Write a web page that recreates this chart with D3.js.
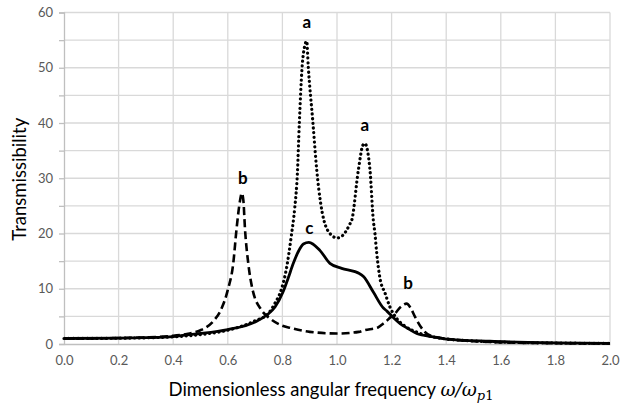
<!DOCTYPE html>
<html>
<head>
<meta charset="utf-8">
<script src="https://cdn.jsdelivr.net/npm/d3@7"></script>
<style>
  body { margin: 0; background: #fff; }
  text { font-family: Lato, "Open Sans", sans-serif; }
</style>
</head>
<body>
<svg id="chart" width="621" height="405"></svg>
<script>
// curve a (dotted)
const freqA = [0, 0.1, 0.2, 0.3, 0.4, 0.5, 0.6, 0.65, 0.7, 0.748, 0.773, 0.797, 0.815, 0.833, 0.845, 0.855, 0.862,
  0.872, 0.882, 0.889, 0.895, 0.911, 0.926, 0.952, 0.98, 1.0, 1.02, 1.048, 1.054, 1.078, 1.095, 1.102,
  1.121, 1.133, 1.139, 1.145, 1.157, 1.176, 1.194, 1.219, 1.25, 1.3, 1.35, 1.4, 1.5, 1.6, 1.8, 2.0]
const transA = [1.0, 1.01, 1.05, 1.12, 1.3, 1.7, 2.5, 3.2, 4.2, 5.5, 7.4, 10, 13.7, 19.7, 24.5, 31, 40,
  50, 54, 54.8, 50, 40.5, 31.4, 22.4, 19.7, 19.2, 19.6, 21.8, 22.4, 31.4, 36, 36.3,
  31.4, 22.4, 20, 16.7, 12, 9.2, 6.7, 4.6, 3.2, 2.0, 1.3, 0.9, 0.55, 0.35, 0.18, 0.1]

// curve b (dashed)
const freqB = [0, 0.1, 0.2, 0.3, 0.4, 0.46, 0.5, 0.52, 0.55, 0.575, 0.6, 0.62, 0.632, 0.645, 0.651,
  0.657, 0.663, 0.675, 0.69, 0.724, 0.755, 0.8, 0.83, 0.9, 1.0, 1.08, 1.1, 1.15, 1.17, 1.2, 1.21,
  1.235, 1.255, 1.27, 1.286, 1.316, 1.353, 1.4, 1.5, 1.6, 1.8, 2.0]
const transB = [1.0, 1.02, 1.08, 1.2, 1.5, 1.9, 2.5, 3.0, 4.3, 6.2, 9.8, 14.6, 20.8, 26, 27.3,
  26, 20.8, 14.6, 10, 6.1, 4.6, 3.3, 2.9, 2.2, 1.9, 2.2, 2.5, 3.0, 3.7, 5.0, 5.4,
  6.8, 7.3, 6.5, 4.9, 2.5, 1.3, 0.95, 0.5, 0.3, 0.15, 0.08]

// curve c (solid)
const freqC = [0, 0.2, 0.3, 0.4, 0.46, 0.5, 0.6, 0.7, 0.742, 0.773, 0.803, 0.821, 0.84, 0.858, 0.877,
  0.897, 0.938, 0.974, 1.017, 1.066, 1.08, 1.097, 1.133, 1.17, 1.182, 1.206, 1.231, 1.26, 1.292, 1.353,
  1.4, 1.56, 1.7, 1.8, 2.0]
const transC = [1.0, 1.05, 1.15, 1.35, 1.7, 1.9, 2.6, 4.0, 5.2, 6.7, 9.5, 11.9, 14.6, 16.7, 18.1,
  18.4, 16.9, 14.6, 13.7, 13.1, 12.8, 12.2, 9.4, 6.5, 6.0, 4.8, 3.7, 2.8, 1.9, 1.3,
  0.9, 0.5, 0.3, 0.2, 0.12]

const xTicks = [0, 0.2, 0.4, 0.6, 0.8, 1.0, 1.2, 1.4, 1.6, 1.8, 2.0]
const yTicks = [0, 10, 20, 30, 40, 50, 60]
const yGrid = [0, 5, 10, 15, 20, 25, 30, 35, 40, 45, 50, 55, 60]

// peak labels
const labelText = ['a', 'a', 'b', 'b', 'c']
const labelFreq = [0.889, 1.102, 0.655, 1.26, 0.899]
const labelTrans = [57.2, 38.5, 29.0, 9.9, 20.0]

const width = 621
const height = 405
const margin = { top: 12.5, right: 11, bottom: 61, left: 64 }

const svg = d3.select('#chart')
const x = d3.scaleLinear().domain([0, 2]).range([margin.left, width - margin.right])
const y = d3.scaleLinear().domain([0, 60]).range([height - margin.bottom, margin.top])

// grid
svg.append('g')
  .selectAll('line').data(xTicks.slice(1))
  .enter().append('line')
  .attr('x1', d => x(d)).attr('x2', d => x(d))
  .attr('y1', y(0)).attr('y2', y(60))
  .attr('stroke', '#d9d9d9').attr('stroke-width', 1.3)
svg.append('g')
  .selectAll('line').data(yGrid.slice(1))
  .enter().append('line')
  .attr('x1', x(0)).attr('x2', x(2))
  .attr('y1', d => y(d)).attr('y2', d => y(d))
  .attr('stroke', '#d9d9d9').attr('stroke-width', 1.3)

// y axis: ticks every 5, labels every 10
const yAxis = svg.append('g')
  .attr('transform', `translate(${x(0)},0)`)
  .call(d3.axisLeft(y).tickValues(yGrid).tickSize(5).tickPadding(6)
    .tickFormat(d => (yTicks.includes(d) ? d : '')))
yAxis.select('.domain').attr('stroke', '#bfbfbf').attr('stroke-width', 1.3)
yAxis.selectAll('.tick line').attr('stroke', '#bfbfbf').attr('stroke-width', 1.3)
yAxis.selectAll('.tick text').attr('fill', '#595959').attr('font-size', 13)
  .style('font-family', 'Lato, sans-serif')

// x axis
const xAxis = svg.append('g')
  .attr('transform', `translate(0,${y(0)})`)
  .call(d3.axisBottom(x).tickValues(xTicks).tickSize(0).tickPadding(12)
    .tickFormat(d3.format('.1f')))
xAxis.select('.domain').attr('stroke', '#bfbfbf').attr('stroke-width', 1.5)
xAxis.selectAll('.tick text').attr('fill', '#595959').attr('font-size', 13)
  .style('font-family', 'Lato, sans-serif')

// curves
const line = d3.line()
  .x(d => x(d[0]))
  .y(d => y(d[1]))
  .curve(d3.curveMonotoneX)

const plot = svg.append('g')
plot.append('path')
  .attr('d', line(d3.zip(freqB, transB)))
  .attr('fill', 'none').attr('stroke', '#000')
  .attr('stroke-width', 2.6).attr('stroke-dasharray', '8 4')
plot.append('path')
  .attr('d', line(d3.zip(freqA, transA)))
  .attr('fill', 'none').attr('stroke', '#000')
  .attr('stroke-width', 3.2).attr('stroke-linecap', 'round')
  .attr('stroke-dasharray', '0.1 4.6')
plot.append('path')
  .attr('d', line(d3.zip(freqC, transC)))
  .attr('fill', 'none').attr('stroke', '#000')
  .attr('stroke-width', 2.8)

// peak labels
svg.append('g')
  .selectAll('text').data(d3.range(labelText.length))
  .enter().append('text')
  .attr('x', i => x(labelFreq[i]))
  .attr('y', i => y(labelTrans[i]))
  .attr('text-anchor', 'middle')
  .attr('font-size', 17).attr('font-weight', 'bold')
  .text(i => labelText[i])

// axis titles
svg.append('text')
  .attr('transform', `translate(26,${(y(0) + y(60)) / 2 + 1}) rotate(-90)`)
  .attr('text-anchor', 'middle')
  .attr('font-size', 18.5).attr('fill', '#000')
  .text('Transmissibility')

const xTitle = svg.append('text')
  .attr('x', 331).attr('y', 396)
  .attr('text-anchor', 'middle')
  .attr('font-size', 18.5).attr('fill', '#000')
xTitle.append('tspan').text('Dimensionless angular frequency ')
xTitle.append('tspan').text('ω/ω')
  .style('font-family', '"DejaVu Serif", serif').attr('font-style', 'italic')
xTitle.append('tspan').text('p')
  .style('font-family', '"DejaVu Serif", serif').attr('font-style', 'italic')
  .attr('font-size', 13).attr('dy', 4)
xTitle.append('tspan').text('1')
  .style('font-family', '"DejaVu Serif", serif')
  .attr('font-size', 13)
</script>
</body>
</html>
